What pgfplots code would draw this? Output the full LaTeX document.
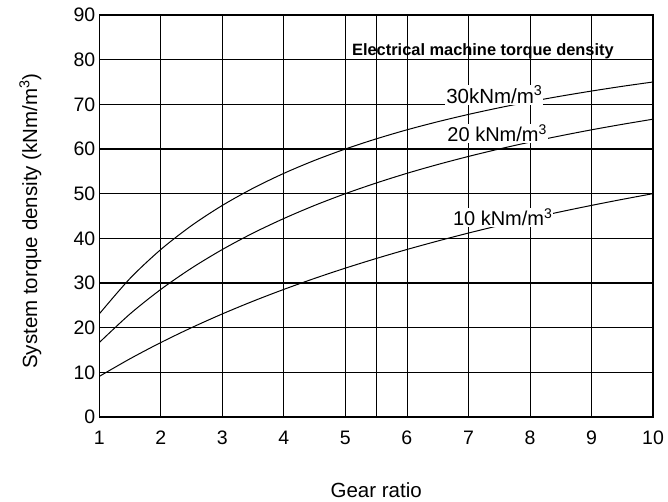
\documentclass[border=0pt]{standalone}
\usepackage{pgfplots}
\pgfplotsset{compat=1.18}
\usepackage{fontspec}
\setmainfont{Liberation Sans}

% system torque density vs gear ratio, one series per machine torque density
\pgfplotstableread{
G     t30    t20    t10
1.0   23.08  16.67  9.09
1.5   31.03  23.08  13.04
2.0   37.50  28.57  16.67
2.5   42.86  33.33  20.00
3.0   47.37  37.50  23.08
3.5   51.22  41.18  25.93
4.0   54.55  44.44  28.57
4.5   57.45  47.37  31.03
5.0   60.00  50.00  33.33
5.5   62.26  52.38  35.48
6.0   64.29  54.55  37.50
6.5   66.10  56.52  39.39
7.0   67.74  58.33  41.18
7.5   69.23  60.00  42.86
8.0   70.59  61.54  44.44
8.5   71.83  62.96  45.95
9.0   72.97  64.29  47.37
9.5   74.03  65.52  48.72
10.0  75.00  66.67  50.00
}\torque

\begin{document}
\begin{tikzpicture}
\begin{axis}[
    name=main,
    scale only axis,
    width=553.7pt,
    height=402pt,
    xmin=1, xmax=10,
    ymin=0, ymax=90,
    xtick={1,2,...,10},
    ytick={0,10,...,90},
    extra x ticks={5.5},
    extra x tick labels={},
    extra x tick style={grid=major},
    grid=major,
    major x grid style={black, line width=0.8pt},
    major y grid style={black, line width=1.4pt},
    major tick length=0pt,
    axis line style={black, line width=1.3pt},
    tick label style={font=\fontsize{19.5}{22}\selectfont},
    /pgf/number format/assume math mode=true,
    xticklabel style={anchor=base, yshift=-28pt},
    yticklabel style={xshift=-0.5pt},
    xlabel={Gear ratio},
    ylabel={System torque density (kNm/m\textsuperscript{3})},
    label style={font=\fontsize{20.5}{24}\selectfont},
    xlabel style={at={(axis description cs:0.5,-0.2015)}, anchor=base},
    ylabel style={at={(axis description cs:-0.1125,0.4876)}, anchor=base},
]
\addplot[black, line width=1pt, smooth] table[x=G, y=t30] {\torque};
\addplot[black, line width=1pt, smooth] table[x=G, y=t20] {\torque};
\addplot[black, line width=1pt, smooth] table[x=G, y=t10] {\torque};

\node[anchor=base west, inner sep=1pt, font=\bfseries\fontsize{16.4}{19}\selectfont]
    at (axis cs:5.09,81.0) {Electrical machine torque density};
\node[anchor=base west, fill=white, inner sep=1pt, font=\fontsize{20.5}{24}\selectfont]
    at (axis cs:6.62,70.2) {30kNm/m\textsuperscript{3}};
\node[anchor=base west, fill=white, inner sep=1pt, font=\fontsize{20}{24}\selectfont]
    at (axis cs:6.64,61.6) {20 kNm/m\textsuperscript{3}};
\node[anchor=base west, fill=white, inner sep=1pt, font=\fontsize{20}{24}\selectfont]
    at (axis cs:6.73,42.8) {10 kNm/m\textsuperscript{3}};
\end{axis}
\pgfresetboundingbox
\path[use as bounding box] ([shift={(-99.3pt,-85pt)}]main.south west)
    rectangle ([shift={(15pt,15pt)}]main.north east);
\end{tikzpicture}
\end{document}
